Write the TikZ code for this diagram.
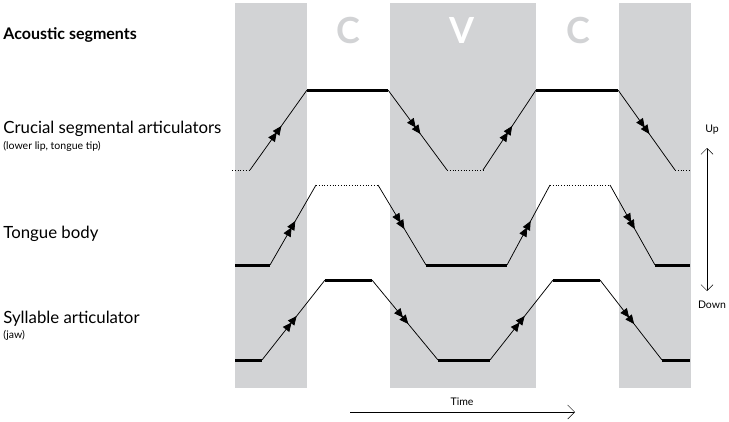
\documentclass[tikz,border=0pt]{standalone}
\usepackage{fontspec}
\setmainfont{Lato}
\usetikzlibrary{arrows.meta,decorations.markings}
\tikzset{every picture/.style={line width=0.75pt}}
\definecolor{band}{RGB}{210,211,213}
\tikzset{
  move/.style={postaction={decorate},decoration={markings,
      mark=at position 0.47 with {\arrow{Triangle[length=9pt,width=8pt]}},
      mark=at position 0.55 with {\arrow{Triangle[length=9pt,width=8pt]}}}},
  hold/.style={line width=3pt},
  rest/.style={dotted},
  lab/.style={anchor=west,align=left,inner sep=0pt},
  seg/.style={font=\fontsize{36}{36}\selectfont\bfseries}
}
\begin{document}
\begin{tikzpicture}[x=1pt,y=-1pt]
        \useasboundingbox (0,0) rectangle (729,421);

        % gray bands
        \fill[band] (235,3) rectangle (307,388);
        \fill[band] (390,3) rectangle (536,388);
        \fill[band] (619,3) rectangle (691,388);

        \node[seg,band] (c1) at (348,30){C};
        \node[seg,white] (v) at (462,30){V};
        \node[seg,band] (c2) at (578,30){C};

        % labels
        \node[lab,font=\bfseries\fontsize{16}{18}\selectfont] (acoustic) at (3,35){Acoustic segments};
        \node[lab,font=\fontsize{16.8}{18}\selectfont] (crucial) at (3,129){Crucial segmental articulators};
        \node[lab,font=\fontsize{10.5}{12}\selectfont] (crucialsub) at (3,146){(lower lip, tongue tip)};
        \node[lab,font=\fontsize{16.8}{18}\selectfont] (tongue) at (3,234){Tongue body};
        \node[lab,font=\fontsize{16.8}{18}\selectfont] (syllable) at (3,319){Syllable articulator};
        \node[lab,font=\fontsize{10.5}{12}\selectfont] (syllablesub) at (3,335){(jaw)};

        % crucial articulators
        \coordinate (a0) at (232,170);
        \coordinate (a1) at (250,170);
        \coordinate (a2) at (307,90);
        \coordinate (a3) at (388,90);
        \coordinate (a4) at (447,170);
        \coordinate (a5) at (483,170);
        \coordinate (a6) at (536,90);
        \coordinate (a7) at (618,90);
        \coordinate (a8) at (675,170);
        \coordinate (a9) at (690,170);
        \draw[rest] (a0) -- (a1);
        \draw[move] (a1) -- (a2);
        \draw[hold] (a2) -- (a3);
        \draw[move] (a3) -- (a4);
        \draw[rest] (a4) -- (a5);
        \draw[move] (a5) -- (a6);
        \draw[hold] (a6) -- (a7);
        \draw[move] (a7) -- (a8);
        \draw[rest] (a8) -- (a9);

        % tongue body
        \coordinate (b0) at (235,265);
        \coordinate (b1) at (270,265);
        \coordinate (b2) at (316,185);
        \coordinate (b3) at (378,185);
        \coordinate (b4) at (426,265);
        \coordinate (b5) at (507,265);
        \coordinate (b6) at (550,185);
        \coordinate (b7) at (610,185);
        \coordinate (b8) at (655,265);
        \coordinate (b9) at (690,265);
        \draw[hold] (b0) -- (b1);
        \draw[move] (b1) -- (b2);
        \draw[rest] (b2) -- (b3);
        \draw[move] (b3) -- (b4);
        \draw[hold] (b4) -- (b5);
        \draw[move] (b5) -- (b6);
        \draw[rest] (b6) -- (b7);
        \draw[move] (b7) -- (b8);
        \draw[hold] (b8) -- (b9);

        % jaw
        \coordinate (c0) at (235,360);
        \coordinate (c1) at (262,360);
        \coordinate (c2) at (325,280);
        \coordinate (c3) at (372,280);
        \coordinate (c4) at (438,360);
        \coordinate (c5) at (490,360);
        \coordinate (c6) at (553,280);
        \coordinate (c7) at (600,280);
        \coordinate (c8) at (662,360);
        \coordinate (c9) at (690,360);
        \draw[hold] (c0) -- (c1);
        \draw[move] (c1) -- (c2);
        \draw[hold] (c2) -- (c3);
        \draw[move] (c3) -- (c4);
        \draw[hold] (c4) -- (c5);
        \draw[move] (c5) -- (c6);
        \draw[hold] (c6) -- (c7);
        \draw[move] (c7) -- (c8);
        \draw[hold] (c8) -- (c9);

        % axes
        \node[font=\fontsize{10.5}{12}\selectfont] (up) at (712,130){Up};
        \node[font=\fontsize{10.5}{12}\selectfont] (down) at (712,305){Down};
        \coordinate (u0) at (707,148);
        \coordinate (u1) at (707,291);
        \draw[line width=0.5pt,{Straight Barb[length=6pt]}-{Straight Barb[length=6pt]}] (u0) -- (u1);
        \coordinate (t0) at (350,412);
        \coordinate (t1) at (575,412);
        \draw[line width=0.5pt,-{Straight Barb[length=7pt]}] (t0) -- (t1);
        \node[font=\fontsize{10.5}{12}\selectfont] (time) at (462,402){Time};
\end{tikzpicture}
\end{document}
